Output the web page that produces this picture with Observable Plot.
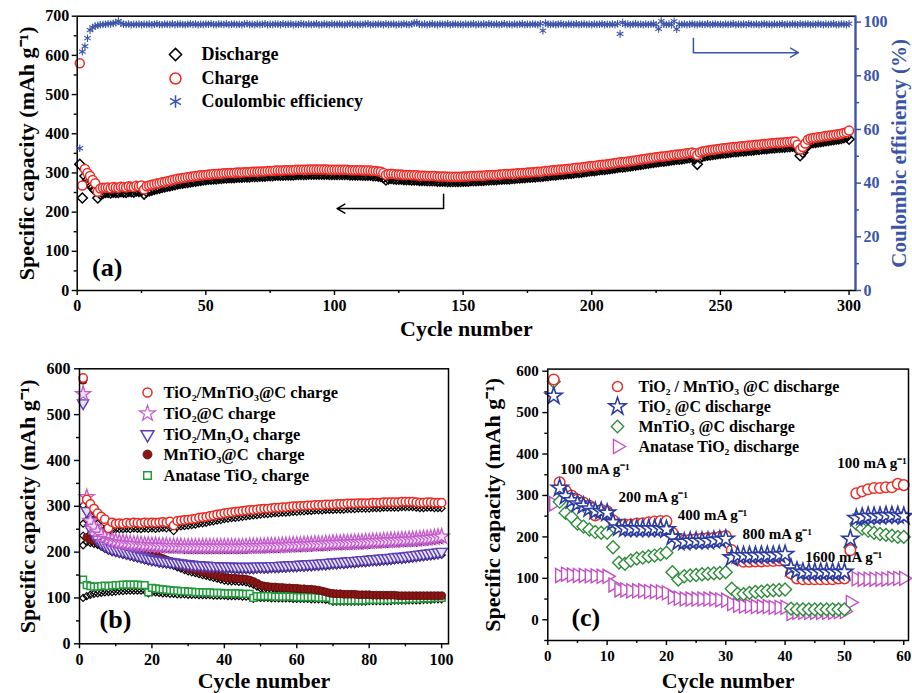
<!DOCTYPE html>
<html><head><meta charset="utf-8">
<script src="https://cdn.jsdelivr.net/npm/d3@7"></script>
<script src="https://cdn.jsdelivr.net/npm/@observablehq/plot@0.6"></script>
<style>body{margin:0;background:#fff}#fig{position:relative;width:912px;height:693px;background:#fff;overflow:hidden}</style>
</head><body><div id="fig"></div>
<script>
// ---------- Panel (a) data: cycles 1..300 ----------
const chargeA = [
580,268,310,300,292,282,274,252,260,262,262,263,261,264,263,262,265,264,263,266,265,264,267,266,268,
258,266,268,270,271,273,274,276,277,279,280,282,283,285,286,287,288,289,290,291,292,293,294,294,295,
296,296,297,297,298,298,299,299,300,300,300,301,301,301,302,302,302,303,303,303,304,304,304,305,305,
305,306,306,306,306,307,307,307,307,308,308,308,308,308,309,309,309,309,309,309,309,309,308,308,308,
308,308,308,308,308,307,307,307,307,307,306,306,306,306,305,305,304,303,300,295,297,298,297,296,296,
296,295,295,295,294,294,294,293,293,293,292,292,292,292,291,291,291,291,290,290,290,290,290,290,291,
291,291,292,292,292,293,293,293,294,294,295,295,295,296,296,297,297,297,298,298,299,299,300,300,301,
301,302,302,303,303,304,305,305,306,307,307,308,309,309,310,311,311,312,313,313,314,315,316,317,318,
318,319,320,321,321,322,323,324,325,326,327,327,328,329,330,331,332,333,334,335,336,337,338,339,340,
341,342,342,343,344,345,346,347,347,348,349,350,351,352,350,346,352,355,356,357,358,359,360,361,362,
363,363,364,365,366,366,367,368,368,369,370,370,371,372,372,373,374,374,375,376,376,377,377,378,378,
379,379,380,380,372,360,366,375,385,388,389,390,391,392,393,394,395,396,397,398,399,400,402,404,408];
const dischargeA = [
322,236,292,282,272,262,255,236,246,248,250,250,249,251,250,250,252,251,250,253,252,251,254,253,255,
246,252,254,256,258,260,261,263,264,266,267,269,270,272,273,274,275,276,277,278,279,280,281,282,283,
284,284,285,285,286,286,287,287,288,288,288,289,289,289,290,290,290,291,291,291,292,292,292,293,293,
293,294,294,294,294,295,295,295,295,296,296,296,296,296,297,297,297,297,297,297,297,297,296,296,296,
296,296,296,296,296,295,295,295,295,295,294,294,294,294,293,293,292,291,288,282,285,286,285,284,284,
284,283,283,283,282,282,282,281,281,281,280,280,280,280,279,279,279,279,278,278,278,278,278,278,279,
279,279,280,280,280,281,281,281,282,282,283,283,283,284,284,285,285,285,286,286,287,287,288,288,289,
289,290,290,291,291,292,293,293,294,295,295,296,297,297,298,299,299,300,301,301,302,303,304,305,306,
306,307,308,309,309,310,311,312,313,314,315,315,316,317,318,319,320,321,322,323,324,325,326,327,328,
329,330,330,331,332,333,334,335,335,336,337,338,339,340,336,322,338,342,344,345,346,347,348,349,350,
351,351,352,353,354,354,355,356,356,357,358,358,359,360,360,361,362,362,363,364,364,365,365,366,366,
367,367,368,368,360,344,352,363,372,376,377,378,379,380,381,382,383,384,385,386,387,388,390,392,386];
const ceA = [
53,89,91,94,97,98,98.5,98.8,99,99.1,99.2,99.4,99.3,99.5,99.8,100.4,99.6,99.2,99.1,99.3,99.0,99.2,99.1,99.3,99.0,
99.2,99.1,99.3,99.0,99.2,99.4,99.1,99.0,99.3,99.2,99.1,99.4,99.0,99.2,99.3,99.1,99.0,99.2,99.4,99.1,99.3,99.0,99.2,99.1,99.3,
99.2,99.4,99.1,99.0,99.3,99.2,99.1,99.4,99.0,99.2,99.3,99.1,99.2,99.0,99.3,99.4,99.1,99.2,99.0,99.3,99.1,99.2,99.4,99.0,99.2,
99.1,99.3,99.2,99.0,99.4,99.1,99.2,99.3,99.0,99.2,99.1,99.4,99.2,99.0,99.3,99.1,99.2,99.4,99.0,99.1,99.3,99.2,99.0,99.4,99.1,
99.2,99.3,99.1,99.0,99.2,99.4,99.1,99.3,99.0,99.2,99.1,99.3,99.4,99.0,99.2,99.1,99.3,99.2,99.0,99.4,99.1,99.2,99.3,99.0,99.2,
99.1,99.4,99.2,99.0,99.3,99.6,99.8,99.2,99.1,99.3,99.0,99.2,99.4,99.1,99.0,99.3,99.2,99.1,99.4,99.0,99.2,99.3,99.1,99.2,99.0,
99.3,99.1,99.2,99.4,99.0,99.2,99.1,99.3,99.0,99.4,99.2,99.1,99.3,99.0,99.2,99.4,99.1,99.2,99.0,99.3,99.1,99.2,99.4,99.0,99.2,
99.1,99.3,99.2,99.0,99.4,96.8,99.6,99.2,99.1,99.3,99.0,99.2,99.4,99.1,99.0,99.3,99.2,99.1,99.4,99.0,99.2,99.3,99.1,99.2,99.0,
99.3,99.1,99.2,99.4,99.0,99.2,99.1,99.3,99.0,99.4,95.6,99.8,99.1,99.3,99.0,99.2,99.4,99.1,99.2,99.0,99.3,99.1,99.2,99.4,99.0,
97.5,100.4,99.2,99.1,99.3,99.0,100.3,97.4,99.2,99.1,99.3,99.0,99.2,99.4,99.1,99.0,99.3,99.2,99.1,99.4,99.0,99.2,99.3,99.1,99.2,
99.0,99.3,99.1,99.2,99.4,99.0,99.2,99.1,99.3,99.0,99.4,99.2,99.1,99.3,99.0,99.2,99.4,99.1,99.2,99.0,99.3,99.1,99.2,99.4,99.0,
99.2,99.1,99.3,99.2,99.0,99.4,99.1,99.2,99.3,99.0,99.2,99.1,99.4,99.2,99.0,99.3,99.1,99.2,99.4,99.0,99.1,99.3,99.2,99.0,99.4];
const ticksAx = [0,50,100,150,200,250,300], minorAx = [25,75,125,175,225,275];
const ticksAy = [0,100,200,300,400,500,600,700], minorAy = [50,150,250,350,450,550,650];
const ticksCE = [0,20,40,60,80,100], minorCE = [10,30,50,70,90];
const legendA = ["Discharge","Charge","Coulombic efficiency"];
// annotation arrows (data coords)
const arrowLeft = [{x1:142.4,y1:247,x2:142.4,y2:209},{x1:142.4,y1:209,x2:101,y2:209}];
const arrowRight = [{x1:239.5,y1:645,x2:239.5,y2:607},{x1:239.5,y1:607,x2:280.3,y2:607}];

// ---------- Panel (b) data: cycles 1..100 ----------
const bRedC = [580,315,305,295,285,278,272,252,265,262,263,262,264,263,265,264,263,265,264,265,
264,265,266,265,267,258,268,269,270,271,272,273,275,276,277,279,280,282,283,285,
286,287,288,289,290,291,292,292,293,294,295,295,296,297,297,298,298,299,300,300,
301,301,302,302,303,303,303,304,304,304,305,305,305,306,306,306,307,307,307,307,
308,308,308,309,309,309,309,309,310,310,310,310,309,308,308,309,309,308,308,308];
const bRedD = [302,290,280,270,262,255,250,245,248,250,250,250,251,250,252,251,250,252,251,252,
251,252,253,252,254,246,255,256,257,258,259,260,262,263,264,266,267,269,270,272,
273,274,275,276,277,278,279,280,281,282,283,283,284,285,285,286,286,287,288,288,
289,289,290,290,291,291,291,292,292,292,293,293,293,294,294,294,295,295,295,295,
296,296,296,297,297,297,297,297,298,298,298,298,297,296,296,297,297,296,296,296];
const bStarC = [545,320,268,255,245,238,233,229,226,224,222,221,220,219,218,218,217,216,216,215,
215,214,214,214,213,213,213,213,212,212,212,212,212,212,212,212,212,212,212,212,
212,212,212,212,212,212,213,213,213,213,213,214,214,214,214,215,215,215,216,216,
216,217,217,217,218,218,218,219,219,220,220,220,221,221,221,222,222,222,223,223,
224,224,224,225,225,226,226,226,227,227,228,228,228,229,230,230,231,232,233,234];
const bStarD = [262,290,258,246,237,231,226,222,219,217,215,214,213,212,211,211,210,209,209,208,
208,207,207,207,206,206,206,206,205,205,205,205,205,205,205,205,205,205,205,205,
205,205,205,205,205,205,206,206,206,206,206,207,207,207,207,208,208,208,209,209,
209,210,210,210,211,211,211,212,212,213,213,213,214,214,214,215,215,215,216,216,
217,217,217,218,218,219,219,219,220,220,221,221,221,222,223,223,224,225,226,227];
const bTriC = [525,290,252,238,228,220,215,210,207,205,203,201,199,197,195,193,191,189,187,185,
184,182,181,180,179,178,177,176,175,174,173,172,172,171,171,170,170,170,169,169,
169,169,168,168,168,168,168,168,169,169,169,169,170,170,170,171,171,172,172,172,
173,173,174,174,175,175,176,176,177,178,178,179,179,180,181,181,182,183,183,184,
185,185,186,187,187,188,189,190,190,191,192,193,194,195,196,197,198,199,200,201];
const bTriD = [236,270,240,228,219,212,207,203,200,198,196,194,192,190,188,186,184,182,180,178,
177,175,174,173,172,171,170,169,168,167,166,165,165,164,164,163,163,163,162,162,
162,162,161,161,161,161,161,161,162,162,162,162,163,163,163,164,164,165,165,165,
166,166,167,167,168,168,169,169,170,171,171,172,172,173,174,174,175,176,176,177,
178,178,179,180,180,181,182,183,183,184,185,186,187,188,189,190,191,192,193,194];
const bMnC = [575,232,228,225,222,220,218,216,214,212,210,208,206,204,202,200,198,196,194,192,
192,189,186,183,180,177,174,171,168,165,163,161,159,157,155,153,151,149,147,145,
144,143,143,142,142,141,139,136,132,128,126,125,124,124,123,123,122,122,121,121,
120,120,119,119,118,117,115,113,111,110,109,109,108,108,108,108,107,107,107,107,
106,106,106,106,106,106,106,105,105,105,105,105,105,105,105,105,105,105,105,105];
const bMnD = [215,222,220,218,216,214,212,210,208,206,204,202,200,198,196,194,192,190,188,186,
185,182,179,176,173,170,167,164,161,158,156,154,152,150,148,146,144,142,140,138,
137,136,136,135,135,134,132,129,125,121,119,118,117,117,116,116,115,115,114,114,
113,113,112,112,111,110,108,106,104,103,102,102,101,101,101,101,100,100,100,100,
100,100,99,99,99,99,99,99,99,99,99,99,99,99,99,99,99,99,99,99];
const bAnaC = [140,128,126,125,125,126,127,126,127,128,128,129,129,129,129,129,128,128,112,122,
121,120,119,118,117,116,116,115,115,114,114,113,113,112,112,112,111,111,111,110,
110,110,110,110,109,109,109,100,104,104,104,104,104,103,103,103,103,103,103,102,
102,102,102,102,102,101,101,101,100,95,95,95,95,95,95,95,95,95,95,96,
96,96,96,96,96,96,97,97,97,97,98,98,98,98,99,99,99,100,100,100];
const bAnaD = [100,104,107,109,110,111,112,113,113,114,115,115,116,116,116,116,116,116,110,112,
112,111,110,110,109,109,108,108,108,107,107,107,106,106,106,106,105,105,105,105,
104,104,104,104,103,103,103,98,100,100,100,100,99,99,99,99,99,99,98,98,
98,98,98,97,97,97,97,96,95,92,92,92,92,92,92,92,92,92,92,93,
93,93,93,93,93,93,94,94,94,94,95,95,95,95,96,96,96,97,97,97];
const ticksBx = [0,20,40,60,80,100], minorBx = [10,30,50,70,90];
const ticksBy = [0,100,200,300,400,500,600], minorBy = [50,150,250,350,450,550];
const legendB = ["TiO₂/MnTiO₃@C charge","TiO₂@C charge","TiO₂/Mn₃O₄ charge","MnTiO₃@C  charge","Anatase TiO₂ charge"];

// ---------- Panel (c) data: cycles 1..60 ----------
const cRed = [580,332,312,300,290,283,275,252,265,262,240,228,230,230,232,233,235,237,238,238,
210,195,192,193,195,196,197,198,200,202,168,145,140,140,141,141,142,142,143,143,
112,100,98,98,98,98,98,98,100,100,168,305,310,315,318,318,320,320,328,325];
const cBlue = [540,318,298,288,280,275,268,262,262,258,235,222,220,220,220,220,220,220,220,218,
200,188,188,190,190,190,190,192,193,195,150,155,155,155,155,156,156,156,157,158,
125,118,115,115,115,115,115,115,115,115,195,245,248,250,250,250,252,252,252,250];
const cGreen = [575,285,258,248,232,225,218,212,210,210,175,138,135,143,148,150,153,155,158,162,
115,97,105,107,108,110,111,112,113,115,75,63,62,65,67,68,70,71,72,73,
27,25,25,25,25,25,25,25,25,25,175,232,220,215,210,207,205,203,200,200];
const cMag = [280,107,110,108,107,107,106,106,105,105,84,72,72,70,70,70,68,68,67,65,
55,52,50,50,50,50,50,50,48,47,39,35,33,33,32,32,32,30,30,30,
15,18,18,18,18,18,18,18,20,20,42,99,98,98,98,98,98,100,100,100];
const ticksCx = [0,10,20,30,40,50,60], minorCx = [5,15,25,35,45,55];
const ticksCy = [0,100,200,300,400,500,600], minorCy = [-50,50,150,250,350,450,550];
const legendC = ["TiO₂ / MnTiO₃ @C discharge","TiO₂ @C discharge","MnTiO₃ @C discharge","Anatase TiO₂ discharge"];
const rateLabels = [
  {x:2.1, y:364, t:"100 mA g⁻¹"},
  {x:11.9, y:296, t:"200 mA g⁻¹"},
  {x:21.9, y:252, t:"400 mA g⁻¹"},
  {x:32.8, y:206, t:"800 mA g⁻¹"},
  {x:43.4, y:150, t:"1600 mA g⁻¹"},
  {x:48.8, y:378, t:"100 mA g⁻¹"}
];

// ---------- drawing ----------
const FONT = "'Liberation Serif','Times New Roman',serif";
const BLUE = "#3a54a8";
const YT = "Specific capacity (mAh g⁻¹)";
const fig = document.getElementById("fig");
function style(fs) {
  return {fontFamily: FONT, fontWeight: "bold", fontSize: fs + "px", background: "transparent", overflow: "visible", color: "black"};
}
function place(svg, left, top) {
  svg.style.position = "absolute"; svg.style.left = left + "px"; svg.style.top = top + "px"; svg.style.maxWidth = "none";
  fig.appendChild(svg);
}
const blank = () => "";
function axes(tx, mx, ty, my, pad) {
  return [
    Plot.axisX({ticks: tx, tickSize: 5, tickPadding: pad.x, label: null, strokeWidth: 1.4}),
    Plot.axisX({ticks: mx, tickSize: 3, tickFormat: blank, label: null, strokeWidth: 1.4}),
    Plot.axisY({ticks: ty, tickSize: 5, tickPadding: pad.y, label: null, strokeWidth: 1.4}),
    Plot.axisY({ticks: my, tickSize: 3, tickFormat: blank, label: null, strokeWidth: 1.4})
  ];
}
function legend(items, sx, tx, dys, fs) {
  const m = [];
  items.forEach((it, i) => {
    m.push(Plot.dot([0], {frameAnchor: "top-left", dx: sx, dy: dys[i], symbol: it.symbol, r: it.r, stroke: it.stroke, fill: it.fill, strokeWidth: it.sw || 1.5, rotate: it.rotate || 0}));
    m.push(Plot.text([it.label], {frameAnchor: "top-left", dx: tx, dy: dys[i], text: d => d, textAnchor: "start", lineAnchor: "middle", fontSize: fs}));
  });
  return m;
}
const title = (t, anchor, o) => Plot.text([t], {frameAnchor: anchor, text: d => d, textAnchor: "middle", lineAnchor: "middle", fontSize: 22, ...o});

// Panel (a)
const cyc300 = chargeA.map((_, i) => i + 1);
const tabA = cyc300.map((c, i) => ({c, q: chargeA[i], d: dischargeA[i], ce: ceA[i]}));
place(Plot.plot({
  width: 912, height: 345, marginLeft: 76.7, marginTop: 15.7, marginRight: 57, marginBottom: 55,
  x: {domain: [0, 302.5]}, y: {domain: [0, 700]},
  style: style(16),
  marks: [
    ...axes(ticksAx, minorAx, ticksAy, minorAy, {x: 4, y: 3}),
    Plot.dot(tabA, {x: "c", y: "d", symbol: "diamond2", r: 4.5, stroke: "black", fill: "none", strokeWidth: 1.5}),
    Plot.dot(tabA, {x: "c", y: "q", symbol: "circle", r: 4.5, stroke: "#ee2a24", fill: "white", strokeWidth: 1.5}),
    Plot.link(arrowLeft.slice(0, 1), {x1: "x1", y1: "y1", x2: "x2", y2: "y2", stroke: "black", strokeWidth: 1.5}),
    Plot.arrow(arrowLeft.slice(1), {x1: "x1", y1: "y1", x2: "x2", y2: "y2", stroke: "black", strokeWidth: 1.5, headLength: 9, bend: 0}),
    Plot.link(arrowRight.slice(0, 1), {x1: "x1", y1: "y1", x2: "x2", y2: "y2", stroke: BLUE, strokeWidth: 1.5}),
    Plot.arrow(arrowRight.slice(1), {x1: "x1", y1: "y1", x2: "x2", y2: "y2", stroke: BLUE, strokeWidth: 1.5, headLength: 9, bend: 0}),
    ...legend([
      {label: legendA[0], symbol: "diamond2", r: 5.5, stroke: "black", fill: "white"},
      {label: legendA[1], symbol: "circle", r: 5.5, stroke: "#ee2a24", fill: "white"},
      {label: legendA[2], symbol: "asterisk", r: 6, stroke: BLUE, fill: "none"}
    ], 98.3, 124.3, [38.3, 62.3, 85.3], 18),
    Plot.text(["(a)"], {frameAnchor: "bottom-left", dx: 30, dy: -23, fontSize: 26, text: d => d, textAnchor: "middle", lineAnchor: "middle"}),
    title("Cycle number", "bottom", {dy: 38}),
    title(YT, "left", {dx: -50, rotate: -90}),
    Plot.frame({stroke: "black", strokeWidth: 1.5})
  ]
}), 0, 0);

// Panel (a) right axis overlay: Coulombic efficiency
place(Plot.plot({
  width: 912, height: 345, marginLeft: 76.7, marginTop: 15.7, marginRight: 57, marginBottom: 55,
  x: {domain: [0, 302.5], axis: null}, y: {domain: [0, 102.2]},
  style: style(16),
  marks: [
    Plot.dot(tabA, {x: "c", y: "ce", symbol: "asterisk", r: 3.6, stroke: BLUE, strokeWidth: 1.1}),
    Plot.ruleX([302.5], {stroke: BLUE, strokeWidth: 2}),
    Plot.axisY({anchor: "right", ticks: ticksCE, tickSize: 5, tickPadding: 3, label: null, color: BLUE, strokeWidth: 1.5}),
    Plot.axisY({anchor: "right", ticks: minorCE, tickSize: 3, tickFormat: blank, label: null, color: BLUE, strokeWidth: 1.5}),
    title("Coulombic efficiency (%)", "right", {dx: 44, rotate: -90, fill: BLUE, fontSize: 21})
  ]
}), 0, 0);

// Panel (b)
const cyc100 = bRedC.map((_, i) => i + 1);
const tabB = cyc100.map((c, i) => ({c, rc: bRedC[i], rd: bRedD[i], sc: bStarC[i], sd: bStarD[i], tc: bTriC[i], td: bTriD[i], mc: bMnC[i], md: bMnD[i], ac: bAnaC[i], ad: bAnaD[i]}));
const RED_B = "#ea2a22", STAR_B = "#c35ccc", TRI_B = "#5b3db4", MN_B = "#8c1616", GRN_B = "#1f9b3a";
const blk = (key) => Plot.dot(tabB, {x: "c", y: key, symbol: "diamond2", r: 3.2, stroke: "black", fill: "none", strokeWidth: 1.2});
place(Plot.plot({
  width: 460, height: 348, marginLeft: 79, marginTop: 23.3, marginRight: 12, marginBottom: 49.7,
  x: {domain: [0, 101.9]}, y: {domain: [0, 600]},
  style: style(16),
  marks: [
    ...axes(ticksBx, minorBx, ticksBy, minorBy, {x: 5, y: 4}),
    blk("ad"), blk("md"), blk("td"), blk("sd"), blk("rd"),
    Plot.dot(tabB, {x: "c", y: "ac", symbol: "square", r: 3.8, stroke: GRN_B, fill: "white", strokeWidth: 1.5}),
    Plot.dot(tabB, {x: "c", y: "mc", symbol: "circle", r: 4, stroke: "#5a0c0c", fill: MN_B, strokeWidth: 0.8}),
    Plot.dot(tabB, {x: "c", y: "tc", symbol: "triangle", rotate: 180, r: 4.2, stroke: TRI_B, fill: "#e6e0f6", strokeWidth: 1.4}),
    Plot.dot(tabB, {x: "c", y: "sc", symbol: "star", r: 4.8, stroke: STAR_B, fill: "#f3dcf5", strokeWidth: 1.3}),
    Plot.dot(tabB, {x: "c", y: "rc", symbol: "circle", r: 4.2, stroke: RED_B, fill: "white", strokeWidth: 1.5}),
    ...legend([
      {label: legendB[0], symbol: "circle", r: 4.5, stroke: RED_B, fill: "white"},
      {label: legendB[1], symbol: "star", r: 5, stroke: STAR_B, fill: "white", sw: 1.2},
      {label: legendB[2], symbol: "triangle", rotate: 180, r: 4.8, stroke: TRI_B, fill: "white"},
      {label: legendB[3], symbol: "circle", r: 4.5, stroke: "#5a0c0c", fill: MN_B, sw: 0.8},
      {label: legendB[4], symbol: "square", r: 4.3, stroke: GRN_B, fill: "white"}
    ], 68, 84, [23.7, 44.7, 65.7, 85.7, 106.7], 16.5),
    Plot.text(["(b)"], {frameAnchor: "bottom-left", dx: 36, dy: -24, fontSize: 26, text: d => d, textAnchor: "middle", lineAnchor: "middle"}),
    title("Cycle number", "bottom", {dy: 37}),
    title(YT, "left", {dx: -52, rotate: -90}),
    Plot.frame({stroke: "black", strokeWidth: 1.5})
  ]
}), 0, 345);

// Panel (c)
const cyc60 = cRed.map((_, i) => i + 1);
const tabC = cyc60.map((c, i) => ({c, r: cRed[i], b: cBlue[i], g: cGreen[i], m: cMag[i]}));
const RED_C = "#e8302a", BLUE_C = "#2b3b9e", GRN_C = "#2e8c3a", MAG_C = "#c24fc2";
place(Plot.plot({
  width: 452, height: 348, marginLeft: 87.3, marginTop: 23.6, marginRight: 4, marginBottom: 53,
  x: {domain: [0, 60.8]}, y: {domain: [-50, 605]},
  style: style(15),
  marks: [
    ...axes(ticksCx, minorCx, ticksCy, minorCy, {x: 5, y: 4}),
    Plot.dot(tabC, {x: "c", y: "m", symbol: "triangle", rotate: 90, r: 5.2, stroke: MAG_C, fill: "white", strokeWidth: 1.4}),
    Plot.dot(tabC, {x: "c", y: "g", symbol: "diamond2", r: 5.8, stroke: GRN_C, fill: "white", strokeWidth: 1.4}),
    Plot.dot(tabC, {x: "c", y: "r", symbol: "circle", r: 5.3, stroke: RED_C, fill: "white", strokeWidth: 1.5}),
    Plot.dot(tabC, {x: "c", y: "b", symbol: "star", r: 5.3, stroke: BLUE_C, fill: "white", strokeWidth: 1.6}),
    Plot.text(rateLabels, {x: "x", y: "y", text: "t", textAnchor: "start", lineAnchor: "middle", fontSize: 15}),
    ...legend([
      {label: legendC[0], symbol: "circle", r: 5, stroke: RED_C, fill: "white"},
      {label: legendC[1], symbol: "star", r: 5.5, stroke: BLUE_C, fill: "white"},
      {label: legendC[2], symbol: "diamond2", r: 5.6, stroke: GRN_C, fill: "white", sw: 1.3},
      {label: legendC[3], symbol: "triangle", rotate: 90, r: 5.2, stroke: MAG_C, fill: "white", sw: 1.3}
    ], 69.7, 90.7, [17.4, 37.4, 57.4, 77.4], 16),
    Plot.text(["(c)"], {frameAnchor: "bottom-left", dx: 38, dy: -23, fontSize: 26, text: d => d, textAnchor: "middle", lineAnchor: "middle"}),
    title("Cycle number", "bottom", {dy: 40}),
    title(YT, "left", {dx: -55, rotate: -90}),
    Plot.frame({stroke: "black", strokeWidth: 1.5})
  ]
}), 460, 345);
</script></body></html>
